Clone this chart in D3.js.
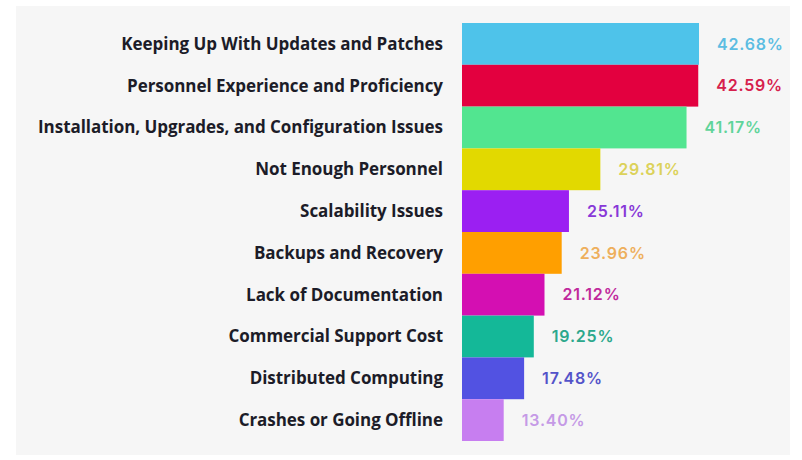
<!DOCTYPE html>
<html>
<head>
<meta charset="utf-8">
<script src="https://cdn.jsdelivr.net/npm/d3@7"></script>
<style>
  html, body { margin: 0; padding: 0; background: #ffffff; }
  #chart { width: 802px; height: 460px; }
</style>
</head>
<body>
<div id="chart"></div>
<script>
// Data
const categories = [
    "Keeping Up With Updates and Patches",
    "Personnel Experience and Proficiency",
    "Installation, Upgrades, and Configuration Issues",
    "Not Enough Personnel",
    "Scalability Issues",
    "Backups and Recovery",
    "Lack of Documentation",
    "Commercial Support Cost",
    "Distributed Computing",
    "Crashes or Going Offline"
];
const values = [42.68, 42.59, 41.17, 29.81, 25.11, 23.96, 21.12, 19.25, 17.48, 13.40];
const barColors = ["#4ec3ea", "#e3003f", "#52e590", "#e2d900", "#9b1ff2", "#ff9f00", "#d40fb2", "#14b898", "#5252e2", "#c77ef0"];
const labelColors = ["#5cbde2", "#d6204c", "#5fd49a", "#dcd25a", "#8838d8", "#eeaf5c", "#c0299c", "#2ca88c", "#5353c9", "#c59ae6"];

const data = categories.map((c, i) => ({ name: c, value: values[i], color: barColors[i], labelColor: labelColors[i] }));

const width = 802;
const height = 460;
const barLeft = 462;

const svg = d3.select("#chart").append("svg")
    .attr("width", width)
    .attr("height", height);

// panel background
svg.append("rect")
    .attr("x", 16)
    .attr("y", 6)
    .attr("width", 774)
    .attr("height", 449)
    .attr("fill", "#f6f6f6");

const y = d3.scaleBand()
    .domain(categories)
    .range([23, 441])
    .padding(0);

// bar lengths in the original are not proportional, a pow scale fits them best
const x = d3.scalePow()
    .exponent(1.5)
    .domain([0, 42.68])
    .range([0, 237]);

svg.append("g")
    .selectAll("rect")
    .data(data)
    .enter()
    .append("rect")
    .attr("x", barLeft)
    .attr("y", d => y(d.name))
    .attr("width", d => x(d.value))
    .attr("height", y.bandwidth())
    .attr("fill", d => d.color);

// category labels
svg.append("g")
    .selectAll("text")
    .data(data)
    .enter()
    .append("text")
    .attr("x", 443)
    .attr("y", d => y(d.name) + y.bandwidth() / 2)
    .attr("dy", "0.35em")
    .attr("text-anchor", "end")
    .style("font-family", "'Open Sans', sans-serif")
    .style("font-size", "17px")
    .style("font-weight", "bold")
    .style("letter-spacing", "-0.05px")
    .style("fill", "#1c1c28")
    .text(d => d.name);

// value labels
svg.append("g")
    .selectAll("text")
    .data(data)
    .enter()
    .append("text")
    .attr("x", d => barLeft + x(d.value) + 18)
    .attr("y", d => y(d.name) + y.bandwidth() / 2)
    .attr("dy", "0.36em")
    .style("font-family", "Inter, sans-serif")
    .style("font-size", "16px")
    .style("font-weight", 600)
    .style("letter-spacing", "0.8px")
    .style("fill", d => d.labelColor)
    .text(d => d.value.toFixed(2) + "%");
</script>
</body>
</html>
